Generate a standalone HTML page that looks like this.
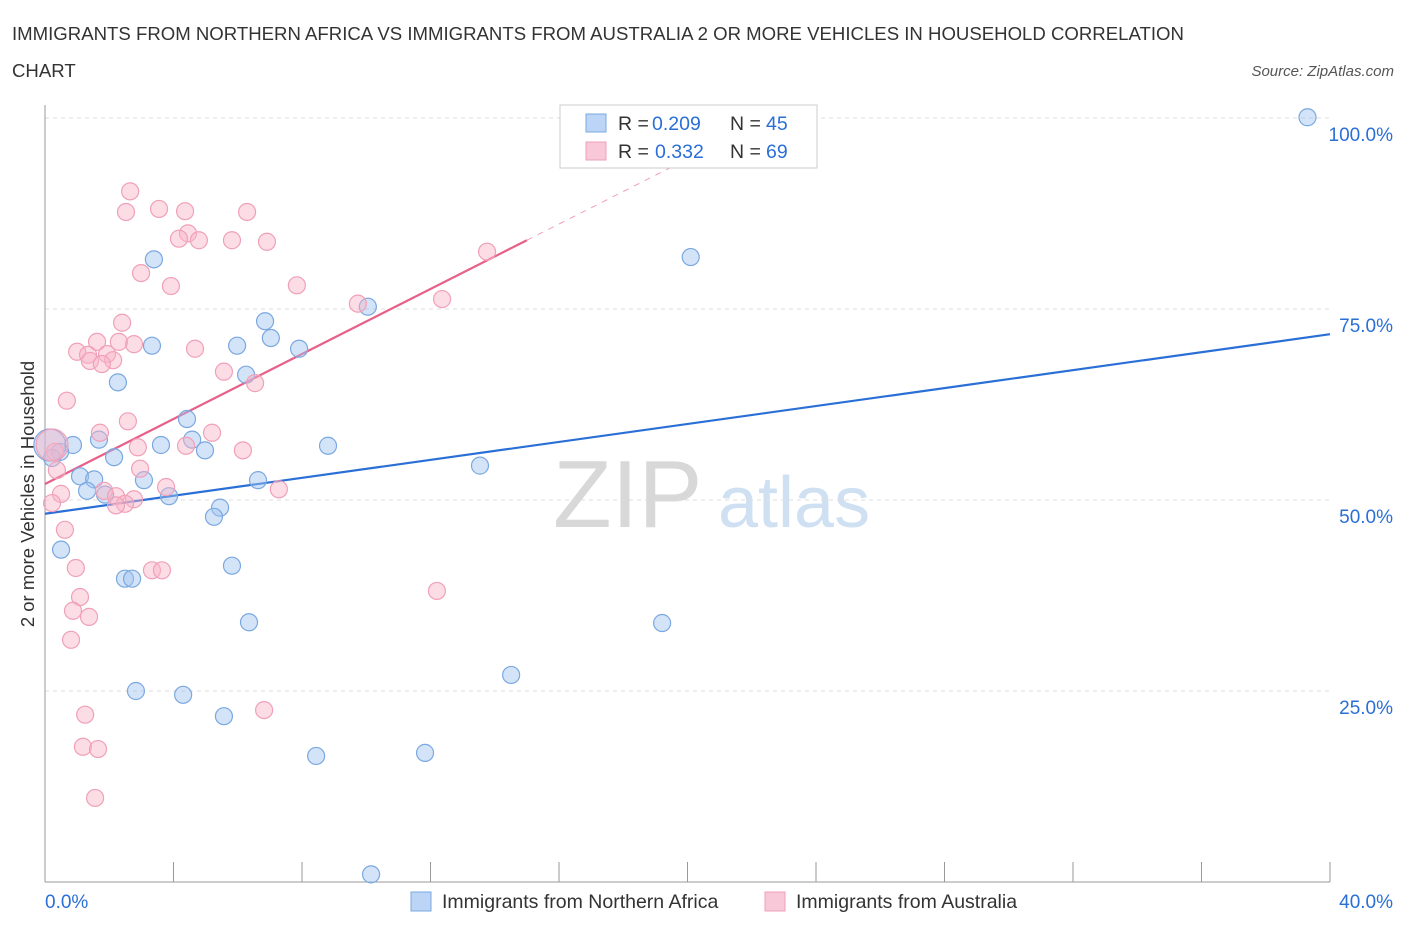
<!DOCTYPE html>
<html><head><meta charset="utf-8"><style>
body{margin:0;background:#fff;font-family:"Liberation Sans",sans-serif;}
svg text{font-family:"Liberation Sans",sans-serif;}
</style></head><body>
<svg id="chart" width="1406" height="930" xmlns="http://www.w3.org/2000/svg">
<text x="12" y="40" font-size="18.6" fill="#333">IMMIGRANTS FROM NORTHERN AFRICA VS IMMIGRANTS FROM AUSTRALIA 2 OR MORE VEHICLES IN HOUSEHOLD CORRELATION</text>
<text x="12" y="77" font-size="18.6" fill="#333">CHART</text>
<text x="1394" y="76" font-size="15" fill="#555" text-anchor="end" font-style="italic">Source: ZipAtlas.com</text>
<text transform="translate(34,494) rotate(-90)" font-size="18.5" fill="#333" text-anchor="middle">2 or more Vehicles in Household</text>
<text x="553" y="527" font-size="96" fill="#d8d8d8" font-family="Liberation Serif">ZIP</text>
<text x="718" y="527" font-size="72" fill="#cfe0f3">atlas</text>
<g id="grid"></g>
<g id="axes"></g>
<g id="lines"></g>
<g id="pts"></g>
<g>
<rect x="560" y="105" width="257" height="63" fill="#fff" stroke="#ccc"/>
<rect x="586" y="114" width="20" height="18" fill="#bcd4f5" stroke="#7aa8e0"/>
<text x="618" y="130" font-size="19.5" fill="#333">R =</text>
<text x="652" y="130" font-size="19.5" fill="#2a6fd6">0.209</text>
<text x="730" y="130" font-size="19.5" fill="#333">N =</text>
<text x="766" y="130" font-size="19.5" fill="#2a6fd6">45</text>
<rect x="586" y="142" width="20" height="18" fill="#f8c8d8" stroke="#f0a0b8"/>
<text x="618" y="158" font-size="19.5" fill="#333">R =</text>
<text x="655" y="158" font-size="19.5" fill="#2a6fd6">0.332</text>
<text x="730" y="158" font-size="19.5" fill="#333">N =</text>
<text x="766" y="158" font-size="19.5" fill="#2a6fd6">69</text>
</g>
<g>
<rect x="411" y="892" width="20" height="19" fill="#bcd4f5" stroke="#7aa8e0"/>
<text x="442" y="908" font-size="19.5" fill="#333">Immigrants from Northern Africa</text>
<rect x="765" y="892" width="20" height="19" fill="#f8c8d8" stroke="#f0a0b8"/>
<text x="796" y="908" font-size="19.5" fill="#333">Immigrants from Australia</text>
</g>
</svg>
<script>
const blueX=[39.3,20.1,3.39,10.05,6.85,7.03,3.33,5.98,7.91,2.27,6.26,4.42,1.68,0.87,3.61,4.58,4.98,8.81,0.47,2.15,0.22,1.09,1.53,3.08,13.54,6.63,1.31,1.87,3.86,5.45,5.26,0.5,5.82,2.49,2.71,6.35,19.21,14.51,2.83,4.3,5.57,8.44,11.83,10.15,0.15];
const blueY=[100.1,81.8,81.5,75.3,73.4,71.2,70.2,70.2,69.8,65.4,66.4,60.6,57.9,57.2,57.2,57.9,56.5,57.1,56.3,55.6,55.5,53.1,52.7,52.6,54.5,52.6,51.2,50.7,50.5,49.0,47.8,43.5,41.4,39.7,39.7,34.0,33.9,27.1,25.0,24.5,21.7,16.5,16.9,1.0,57.2];
const pinkX=[2.65,3.55,2.52,4.36,6.29,4.45,4.17,4.79,5.82,6.91,2.99,3.92,7.84,13.76,9.74,12.36,2.4,1.62,2.77,2.3,1.0,1.34,1.93,2.12,1.4,1.77,4.67,5.57,6.54,0.68,2.58,1.71,5.2,4.39,2.89,6.16,0.31,0.37,2.96,3.77,7.28,0.5,1.84,2.21,2.77,2.49,2.21,0.22,0.62,0.96,3.33,3.64,12.2,1.09,0.87,1.37,0.81,1.25,6.82,1.18,1.65,1.56,0.22];
const pinkY=[90.4,88.1,87.7,87.8,87.7,84.9,84.2,84.0,84.0,83.8,79.7,78.0,78.1,82.5,75.7,76.3,73.2,70.7,70.4,70.7,69.4,69.0,69.1,68.3,68.2,67.8,69.8,66.8,65.3,63.0,60.3,58.8,58.8,57.1,56.9,56.5,56.3,53.9,54.1,51.7,51.4,50.8,51.2,50.5,50.1,49.5,49.3,49.6,46.1,41.1,40.8,40.8,38.1,37.3,35.5,34.7,31.7,21.9,22.5,17.7,17.4,11.0,57.2];
const blueTrend=[48.2,71.7];
const pinkTrend=[52.1,84.0];
const yTicks=[25,50,75,100];
const yTickLabels=["25.0%","50.0%","75.0%","100.0%"];
const xTicks=[0,4,8,12,16,20,24,28,32,36,40];
const NS="http://www.w3.org/2000/svg";
const sx=v=>45+v*32.125, sy=v=>882-v*7.64;
function mk(t,a,p){const e=document.createElementNS(NS,t);for(const k in a)e.setAttribute(k,a[k]);p.appendChild(e);return e;}
const grid=document.getElementById('grid'),axes=document.getElementById('axes'),lines=document.getElementById('lines'),pts=document.getElementById('pts');
yTicks.forEach((v,i)=>{
 const l=mk('line',{x1:45,x2:1330,y1:sy(v),y2:sy(v),stroke:'#ddd','stroke-dasharray':'4,4'},grid);
 
 
 const t=mk('text',{x:1393,y:sy(v)+23,'font-size':19,fill:'#2a6fd6','text-anchor':'end'},axes);t.textContent=yTickLabels[i];
 
 
});
const ax=mk('line',{x1:45,x2:45,y1:105,y2:882,stroke:'#999'},axes);


const bx=mk('line',{x1:45,x2:1330,y1:882,y2:882,stroke:'#999'},axes);


xTicks.forEach(v=>{const t=mk('line',{x1:sx(v),x2:sx(v),y1:862,y2:882,stroke:'#999'},axes);
 
 });
const x0=mk('text',{x:45,y:908,'font-size':19,fill:'#2a6fd6'},axes);x0.textContent='0.0%';


const x1=mk('text',{x:1393,y:908,'font-size':19,fill:'#2a6fd6','text-anchor':'end'},axes);x1.textContent='40.0%';


function dot(x,y,big,blue){const c=mk('circle',{cx:sx(x),cy:sy(y),r:big?16:8.5,fill:blue?'rgba(160,196,240,0.45)':'rgba(248,180,200,0.45)',stroke:blue?'#7aa8e0':'#f0a0b8','stroke-width':1.2},pts);return c;}
blueX.forEach((x,i)=>{const c=dot(x,blueY[i],i===blueX.length-1,true);
 
 });
pinkX.forEach((x,i)=>{const c=dot(x,pinkY[i],i===pinkX.length-1,false);
 
 });
const bl=mk('line',{x1:sx(0),y1:sy(blueTrend[0]),x2:sx(40),y2:sy(blueTrend[1]),stroke:'#2a6fd6','stroke-width':2.2},lines);


const pl=mk('line',{x1:sx(0),y1:sy(pinkTrend[0]),x2:sx(15),y2:sy(pinkTrend[1]),stroke:'#e8608a','stroke-width':2.2},lines);


const slope=(pinkTrend[1]-pinkTrend[0])/15;
const pd=mk('line',{x1:sx(15),y1:sy(pinkTrend[1]),x2:sx(20.5),y2:sy(pinkTrend[0]+slope*20.5),stroke:'#f0a0b8','stroke-width':1,'stroke-dasharray':'6,6'},lines);


</script>
</body></html>
